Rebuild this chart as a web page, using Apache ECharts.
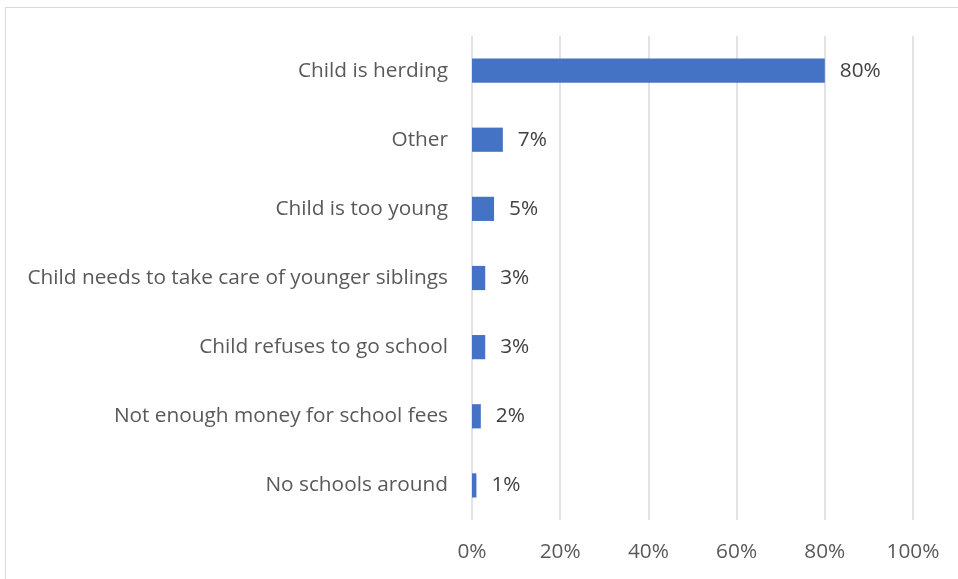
<!DOCTYPE html>
<html>
<head>
<meta charset="utf-8">
<script src="https://cdn.jsdelivr.net/npm/echarts@6/dist/echarts.min.js"></script>
<style>
  html, body { margin: 0; padding: 0; background: #fff; }
  #frame { position: absolute; left: 5px; top: 7px; width: 960px; height: 580px; border: 1px solid #d9d9d9; box-sizing: border-box; }
  #chart { position: absolute; left: 0; top: 0; width: 958px; height: 579px; }
</style>
</head>
<body>
<div id="frame"></div>
<div id="chart"></div>
<script>
// Reasons children are not in school (share of responses, %)
const categories = [
  'Child is herding',
  'Other',
  'Child is too young',
  'Child needs to take care of younger siblings',
  'Child refuses to go school',
  'Not enough money for school fees',
  'No schools around'
];
const shares = [80, 7, 5, 3, 3, 2, 1];
const tickValues = [0, 20, 40, 60, 80, 100];

const FONT = '"Open Sans", sans-serif';
const SIZE = 20.8;
const chart = echarts.init(document.getElementById('chart'), null, { renderer: 'canvas' });

chart.setOption({
  animation: false,
  grid: { left: 472, right: 45, top: 36, bottom: 59, containLabel: false },
  xAxis: {
    type: 'value',
    min: 0,
    max: 100,
    interval: 20,
    axisLine: { show: false },
    axisTick: { show: false },
    splitLine: { show: true, lineStyle: { color: '#d9d9d9', width: 1.5 } },
    axisLabel: {
      margin: 22,
      color: '#595959',
      fontFamily: FONT,
      fontSize: SIZE,
      formatter: v => tickValues.includes(v) ? v + '%' : ''
    }
  },
  yAxis: {
    type: 'category',
    inverse: true,
    data: categories,
    axisLine: { show: false },
    axisTick: { show: false },
    axisLabel: {
      margin: 24,
      color: '#595959',
      fontFamily: FONT,
      fontSize: SIZE,
      padding: [3, 0, 0, 0]
    }
  },
  series: [{
    type: 'bar',
    data: shares,
    barCategoryGap: '65%',
    itemStyle: { color: '#4472c4' },
    label: {
      show: true,
      position: 'right',
      distance: 15,
      color: '#404040',
      fontFamily: FONT,
      fontSize: SIZE,
      padding: [3, 0, 0, 0],
      formatter: p => p.value + '%'
    }
  }]
});
</script>
</body>
</html>
